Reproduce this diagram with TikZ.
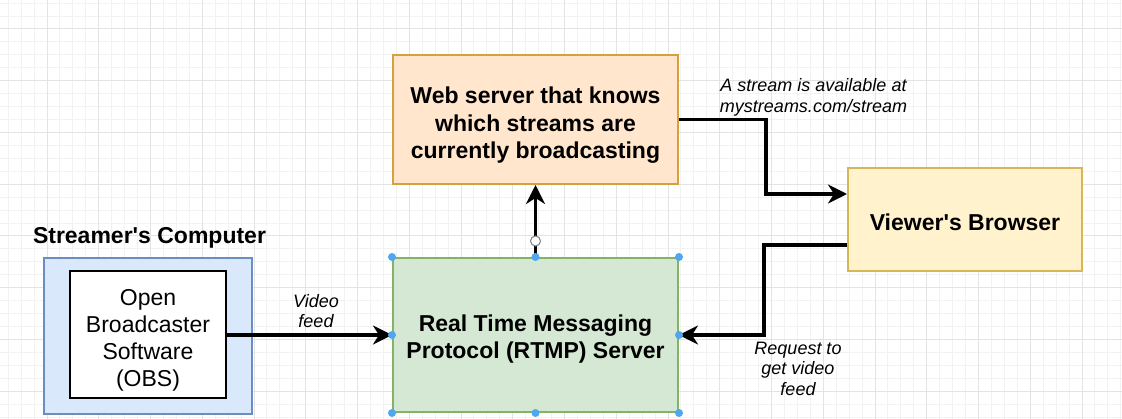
\documentclass[tikz,border=0pt]{standalone}
\usepackage{fontspec}
\setmainfont{Liberation Sans}
\usetikzlibrary{arrows.meta}
\definecolor{gridminor}{HTML}{F2F2F2}
\definecolor{gridmajor}{HTML}{E3E3E3}
\definecolor{webfill}{HTML}{FFE6CC}
\definecolor{webdraw}{HTML}{D6A040}
\definecolor{rtmpfill}{HTML}{D5E8D4}
\definecolor{rtmpdraw}{HTML}{82B366}
\definecolor{viewfill}{HTML}{FFF2CC}
\definecolor{viewdraw}{HTML}{D6B656}
\definecolor{pcfill}{HTML}{DAE8FC}
\definecolor{pcdraw}{HTML}{6C8EBF}
\definecolor{handle}{HTML}{4DA8F0}
\tikzset{
  box/.style={rectangle, draw, line width=2pt, align=center, inner sep=0pt},
  boldtext/.style={font=\fontsize{23}{27.5}\selectfont\bfseries},
  plaintext/.style={font=\fontsize{23}{27}\selectfont},
  inside/.style={label={[align=center, inner sep=0pt, yshift=-#1]center:}},
  lbl/.style={align=center, inner sep=0pt, font=\fontsize{18}{20.5}\selectfont\itshape},
  arr/.style={line width=3.5pt, -{Stealth[length=19pt,width=19pt,inset=6pt]}},
  hdl/.style={circle, fill=handle, inner sep=0pt, minimum size=8pt},
}
\newcommand{\apo}{\textquotesingle}
\begin{document}
\begin{tikzpicture}[x=1pt,y=-1pt]
\useasboundingbox (0,0) rectangle (1122,419);
\fill[white] (0,0) rectangle (1122,419);
% grid
\foreach \i in {-4,...,84} \draw[gridminor, line width=1pt] ({47+\i*12.9375},0) -- ({47+\i*12.9375},419);
\foreach \j in {-3,...,31} \draw[gridminor, line width=1pt] (0,{29+\j*12.9375}) -- (1122,{29+\j*12.9375});
\foreach \i in {-1,...,21} \draw[gridmajor, line width=1pt] ({47+\i*51.75},0) -- ({47+\i*51.75},419);
\foreach \j in {-1,...,8} \draw[gridmajor, line width=1pt] (0,{29+\j*51.75}) -- (1122,{29+\j*51.75});

% nodes
\node[box, fill=webfill, draw=webdraw, minimum width=285pt, minimum height=129pt,
  label={[boldtext, align=center, inner sep=0pt, yshift=-6pt]center:Web server that knows\\which streams are\\currently broadcasting}]
  (web) at (535.5,119.5) {};
\node[box, fill=rtmpfill, draw=rtmpdraw, minimum width=285pt, minimum height=154pt,
  label={[boldtext, align=center, inner sep=0pt, yshift=-4pt]center:Real Time Messaging\\Protocol (RTMP) Server}]
  (rtmp) at (535.5,335) {};
\node[box, fill=viewfill, draw=viewdraw, minimum width=234pt, minimum height=103pt,
  label={[boldtext, align=center, inner sep=0pt, yshift=-3pt]center:Viewer\apo s Browser}]
  (viewer) at (965,219.5) {};
\node[box, fill=pcfill, draw=pcdraw, minimum width=208pt, minimum height=156pt]
  (pc) at (148,336) {};
\node[box, fill=white, draw=black, minimum width=156pt, minimum height=127pt,
  label={[plaintext, align=center, inner sep=0pt, yshift=-6pt]center:Open\\Broadcaster\\Software\\(OBS)}]
  (obs) at (148,334.5) {};
\node[boldtext, inner sep=0pt] (pclabel) at (149.5,238) {Streamer\apo s Computer};

% connectors
\draw[arr] (obs.east |- rtmp.west) -- (rtmp.west);
\draw[arr] (rtmp.north) -- (web.south);
\draw[arr] (web.east) -- ++(87,0) |- ([yshift=25.5pt]viewer.west);
\draw[arr] ([yshift=-25.5pt]viewer.west) -- ++(-83,0) |- (rtmp.east);

% labels
\node[lbl] (l1) at (813.5,97.5) {A stream is available at\\mystreams.com/stream};
\node[lbl] (l2) at (316,311) {Video\\feed};
\node[lbl] (l3) at (798,368.5) {Request to\\get video\\feed};

% selection handles
\foreach \p in {north west, north, north east, west, east, south west, south, south east}
  \node[hdl] at (rtmp.\p) {};
\node[circle, draw=gray, fill=white, line width=1pt, inner sep=0pt, minimum size=10pt] (rot) at (535.5,241) {};
\end{tikzpicture}
\end{document}
